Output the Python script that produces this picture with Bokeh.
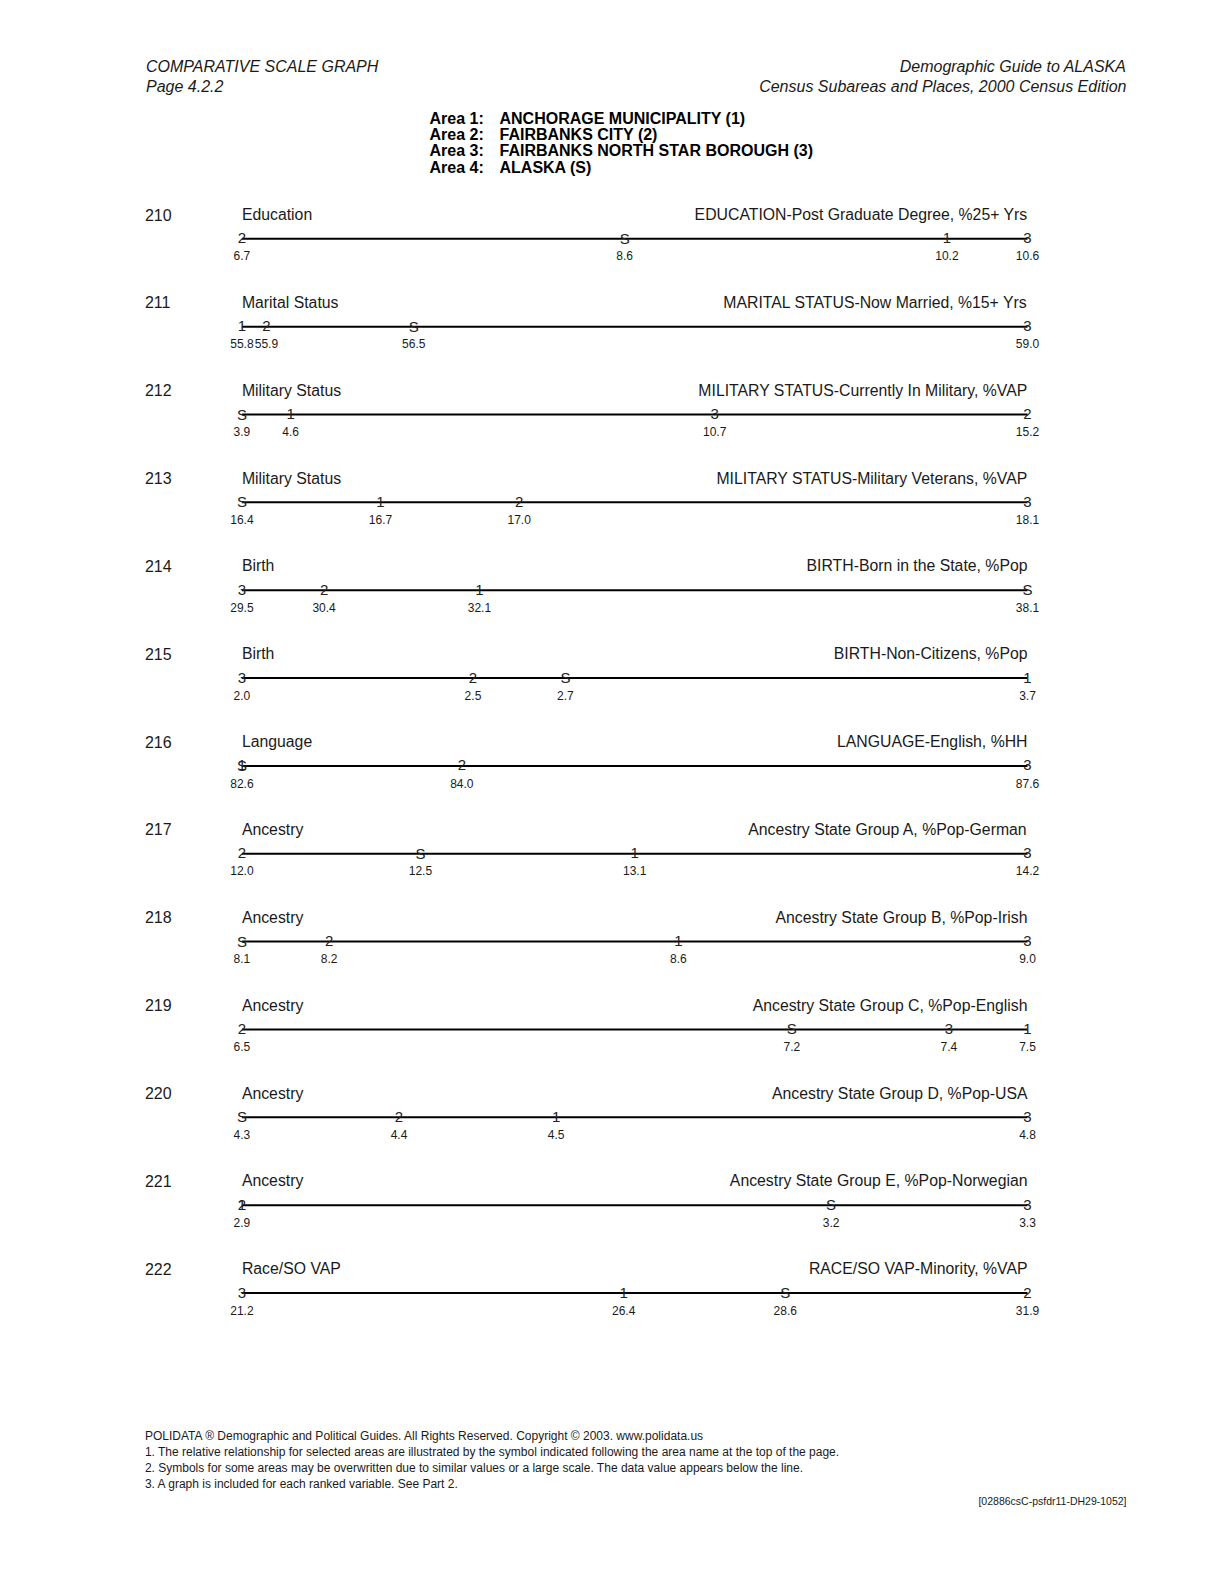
from bokeh.plotting import figure
from bokeh.models import Range1d
from bokeh.core.properties import value
from bokeh.embed import file_html
from bokeh.resources import INLINE

# ---------------- data ----------------
row_ids = [210, 211, 212, 213, 214, 215, 216, 217, 218, 219, 220, 221, 222]
categories = ["Education", "Marital Status", "Military Status", "Military Status",
              "Birth", "Birth", "Language", "Ancestry", "Ancestry", "Ancestry",
              "Ancestry", "Ancestry", "Race/SO VAP"]
titles = ["EDUCATION-Post Graduate Degree, %25+ Yrs",
          "MARITAL STATUS-Now Married, %15+ Yrs",
          "MILITARY STATUS-Currently In Military, %VAP",
          "MILITARY STATUS-Military Veterans, %VAP",
          "BIRTH-Born in the State, %Pop",
          "BIRTH-Non-Citizens, %Pop",
          "LANGUAGE-English, %HH",
          "Ancestry State Group A, %Pop-German",
          "Ancestry State Group B, %Pop-Irish",
          "Ancestry State Group C, %Pop-English",
          "Ancestry State Group D, %Pop-USA",
          "Ancestry State Group E, %Pop-Norwegian",
          "RACE/SO VAP-Minority, %VAP"]
area1 = [10.2, 55.8, 4.6, 16.7, 32.1, 3.7, 82.6, 13.1, 8.6, 7.5, 4.5, 2.9, 26.4]
area2 = [6.7, 55.9, 15.2, 17.0, 30.4, 2.5, 84.0, 12.0, 8.2, 6.5, 4.4, 2.9, 31.9]
area3 = [10.6, 59.0, 10.7, 18.1, 29.5, 2.0, 87.6, 14.2, 9.0, 7.4, 4.8, 3.3, 21.2]
state = [8.6, 56.5, 3.9, 16.4, 38.1, 2.7, 82.6, 12.5, 8.1, 7.2, 4.3, 3.2, 28.6]
symbols = ["1", "2", "3", "S"]

area_labels = ["Area 1:", "Area 2:", "Area 3:", "Area 4:"]
area_names = ["ANCHORAGE MUNICIPALITY (1)", "FAIRBANKS CITY (2)",
              "FAIRBANKS NORTH STAR BOROUGH (3)", "ALASKA (S)"]
header_left = ["COMPARATIVE SCALE GRAPH", "Page 4.2.2"]
header_right = ["Demographic Guide to ALASKA",
                "Census Subareas and Places, 2000 Census Edition"]
footer = ["POLIDATA \u00ae Demographic and Political Guides. All Rights Reserved. Copyright \u00a9 2003. www.polidata.us",
          "1. The relative relationship for selected areas are illustrated by the symbol indicated following the area name at the top of the page.",
          "2. Symbols for some areas may be overwritten due to similar values or a large scale. The data value appears below the line.",
          "3. A graph is included for each ranked variable. See Part 2."]
footer_id = "[02886csC-psfdr11-DH29-1052]"

# ---------------- layout ----------------
W, H = 1208, 1567
FONT = "Liberation Sans"
LX0, LX1 = 241.4, 1027.0
ROW_Y0, ROW_STEP = 238.3, 87.85
TXT = "#1a1a1a"

p = figure(width=W, height=H, x_range=Range1d(0, W), y_range=Range1d(H, 0),
           output_backend="svg", toolbar_location=None, min_border=0,
           x_axis_location=None, y_axis_location=None)
p.grid.visible = False
p.outline_line_color = None

def txt(x, y, t, size, align="left", style="normal", color=TXT, **kw):
    p.text(x=x, y=y, text=t, text_font=value(FONT), text_font_size=value(size),
           text_align=align, text_baseline="middle", text_font_style=style,
           text_color=color, **kw)

# header
txt([145.5, 145.5], [65.6, 85.8], header_left, "16px", style="italic")
txt([1126, 1126], [65.6, 85.8], header_right, "16px", align="right", style="italic")
area_y = [118.1, 134.3, 150.4, 166.6]
txt([429] * 4, area_y, area_labels, "16px", style="bold", color="#000")
txt([499] * 4, area_y, area_names, "16px", style="bold", color="#000")

# rows
for i, rid in enumerate(row_ids):
    ly = ROW_Y0 + i * ROW_STEP
    vals = [area1[i], area2[i], area3[i], state[i]]
    vmin, vmax = min(vals), max(vals)
    s = (LX1 - LX0) / (vmax - vmin)
    rname = f"r{i}"
    p.extra_x_ranges[rname] = Range1d(vmin - LX0 / s, vmin + (W - LX0) / s)

    txt([144.4], [ly - 24.3], [str(rid)], "16px")
    txt([241.4], [ly - 24.3], [categories[i]], "15.8px")
    txt([1027.0], [ly - 24.3], [titles[i]], "15.8px", align="right")

    p.line(x=[vmin, vmax], y=[ly, ly], line_color="black", line_width=2,
           x_range_name=rname)
    p.text(x=vals, y=[ly - 0.5] * 4, text=symbols, text_font=value(FONT),
           text_font_size=value("15px"), text_align="center",
           text_baseline="middle", text_color="#222", x_range_name=rname)
    uniq = sorted(set(vals))
    p.text(x=uniq, y=[ly + 17.1] * len(uniq), text=[f"{v:.1f}" for v in uniq],
           text_font=value(FONT), text_font_size=value("12px"), text_align="center",
           text_baseline="middle", text_color=TXT, x_range_name=rname)

# footer
txt([144.4] * 4, [1435.0, 1451.2, 1467.4, 1483.5], footer, "12px")
txt([1126], [1500], [footer_id], "10.5px", align="right")

open("out.html", "w").write(file_html(p, INLINE))
